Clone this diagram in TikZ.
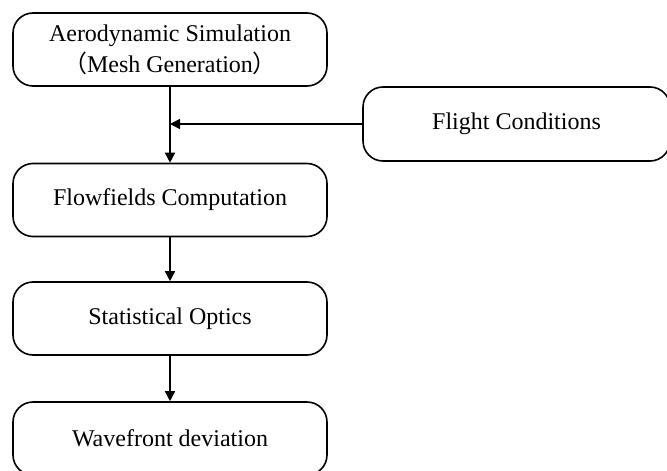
\documentclass[tikz,border=0pt]{standalone}
\usepackage{fontspec}
\setmainfont{Liberation Serif}
\newfontfamily\cjk{Noto Sans CJK SC}
\usetikzlibrary{arrows.meta}
\begin{document}
\begin{tikzpicture}[x=0.5pt, y=-0.5pt, >={Triangle[length=5pt,width=5pt]}, line width=0.8pt,
  stage/.style={draw, rounded corners=10pt, minimum width=157pt, minimum height=36.5pt,
    align=center, font=\fontsize{12}{15.5}\selectfont, inner sep=2pt}]
\useasboundingbox (0,0) rectangle (667,470);
\node[stage] (A) at (170,49.5){Aerodynamic Simulation\\{\cjk （}Mesh Generation{\cjk ）}};
\node[stage, minimum width=153.5pt, minimum height=37pt] (B) at (516.5,124){Flight Conditions};
\node[stage] (C) at (170,200){Flowfields Computation};
\node[stage] (D) at (170,318.5){Statistical Optics};
\node[stage] (E) at (170,438.5){Wavefront deviation};
\coordinate (M) at (A.south |- B.west);

\draw[->](A)--(C);
\draw[->](B)--(M);
\draw[->](C)--(D);
\draw[->](D)--(E);
\end{tikzpicture}
\end{document}
